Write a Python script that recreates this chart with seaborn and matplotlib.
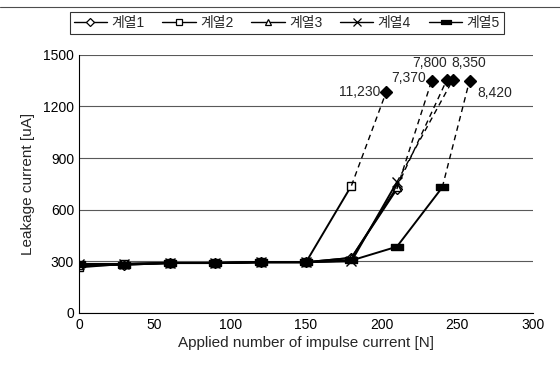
import matplotlib.pyplot as plt
from matplotlib.lines import Line2D
import pandas as pd
import seaborn as sns

# 데이터
x_main = [0, 30, 60, 90, 120, 150, 180, 210]
s1 = [275, 280, 290, 290, 295, 295, 320, 720]
s2 = [265, 285, 290, 290, 295, 295, 740]
s3 = [280, 285, 290, 290, 295, 295, 320, 730]
s4 = [285, 285, 290, 290, 295, 295, 300, 760]
x_s5 = [0, 30, 60, 90, 120, 150, 180, 210, 240]
s5 = [285, 280, 290, 290, 295, 295, 305, 385, 730]

# 파괴 지점 (점선 + 마름모)
fail_start_x = [210, 180, 210, 210, 240]
fail_start_y = [720, 740, 730, 760, 730]
fail_x = [233, 203, 243, 247, 258]
fail_y = [1350, 1285, 1355, 1355, 1350]
fail_labels = ["7,370", "11,230", "7,800", "8,350", "8,420"]

series_names = ["계열1", "계열2", "계열3", "계열4", "계열5"]

sns.set_style("white")
plt.rcParams["font.family"] = ["Liberation Sans", "Noto Sans CJK KR"]

fig = plt.figure(figsize=(5.6, 3.73), dpi=100)
ax = fig.add_axes([0.141, 0.161, 0.811, 0.692])

bar_marker = [(-1, -0.45), (1, -0.45), (1, 0.45), (-1, 0.45), (-1, -0.45)]
styles = [
    dict(marker="D", markersize=5, markerfacecolor="white"),
    dict(marker="s", markersize=6, markerfacecolor="white"),
    dict(marker="^", markersize=6, markerfacecolor="white"),
    dict(marker="x", markersize=7),
    dict(marker=bar_marker, markersize=9, markerfacecolor="black"),
]
leg_sizes = [4, 5, 5, 6, 7]
xs = [x_main, x_main[:7], x_main, x_main, x_s5]
ys = [s1, s2, s3, s4, s5]

handles = []
for name, xv, yv, st, ls in zip(series_names, xs, ys, styles, leg_sizes):
    df = pd.DataFrame({"N": xv, "uA": yv})
    sns.lineplot(data=df, x="N", y="uA", ax=ax, color="black", lw=1.4,
                 markeredgecolor="black", markeredgewidth=1.0, **st)
    hst = dict(st, markersize=ls)
    handles.append(Line2D([], [], color="black", lw=1.0,
                          markeredgecolor="black", markeredgewidth=0.9, **hst))

# 점선 + 마름모
for x0, y0, x1, y1 in zip(fail_start_x, fail_start_y, fail_x, fail_y):
    ax.plot([x0, x1], [y0, y1], color="black", lw=1.0, ls=(0, (4, 3)))
    ax.plot([x1], [y1], marker="D", ms=6.5, color="black", ls="none")

label_pos = {
    "11,230": (-4, 0, "right", "center"),
    "7,370": (-4, 2, "right", "center"),
    "7,800": (0, 7, "right", "bottom"),
    "8,350": (-1, 7, "left", "bottom"),
    "8,420": (6, -4, "left", "top"),
}
for lx, ly, txt in zip(fail_x, fail_y, fail_labels):
    dx, dy, ha, va = label_pos[txt]
    ax.annotate(txt, (lx, ly), xytext=(dx, dy), textcoords="offset points",
                ha=ha, va=va, fontsize=10)

ax.set_xlim(0, 300)
ax.set_ylim(0, 1500)
ax.set_xticks(range(0, 301, 50))
ax.set_yticks(range(0, 1501, 300))
ax.tick_params(direction="in", length=3, labelsize=10, colors="black")
ax.yaxis.grid(True, color="0.35", lw=0.8)
ax.set_axisbelow(True)
sns.despine(ax=ax)
for sp in ["left", "bottom"]:
    ax.spines[sp].set_color("black")
    ax.spines[sp].set_linewidth(0.8)

ax.set_xlabel("Applied number of impulse current [N]", fontsize=11, labelpad=3)
ax.set_ylabel("Leakage current [uA]", fontsize=11, labelpad=6)

leg = fig.legend(handles, series_names, loc="center", ncol=5,
                 bbox_to_anchor=(0.512, 0.938), frameon=True, fontsize=10,
                 handlelength=2.4, handletextpad=0.3, columnspacing=1.3,
                 borderpad=0.3, fancybox=False)
leg.get_frame().set_edgecolor("black")
leg.get_frame().set_linewidth(0.8)

fig.add_artist(Line2D([0, 1], [0.982, 0.982], transform=fig.transFigure,
                      color="0.3", lw=0.8))

fig.savefig("out.png", dpi=100)
